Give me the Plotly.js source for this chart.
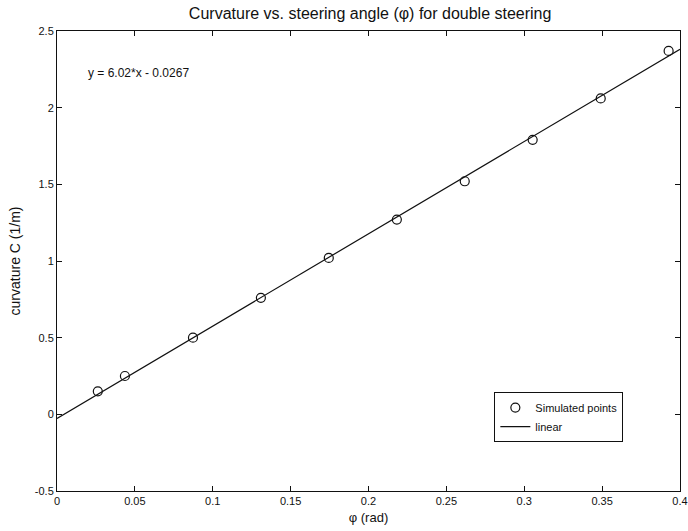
<!DOCTYPE html>
<html>
<head>
<meta charset="utf-8">
<script src="https://cdn.plot.ly/plotly-3.0.1.min.js"></script>
<style>html,body{margin:0;padding:0;background:#fff;}#chart{width:688px;height:531px;}</style>
</head>
<body>
<div id="chart"></div>
<script>
const angleRad = [0.0262, 0.0436, 0.0873, 0.1309, 0.1745, 0.2182, 0.2618, 0.3054, 0.3491, 0.3927];
const curvature = [0.15, 0.25, 0.50, 0.76, 1.02, 1.27, 1.52, 1.79, 2.06, 2.37];
const fitX = [0, 0.4];
const fitY = [-0.0267, 2.3813];
const xTicks = [0, 0.05, 0.1, 0.15, 0.2, 0.25, 0.3, 0.35, 0.4];
const xTickLabels = ['0', '0.05', '0.1', '0.15', '0.2', '0.25', '0.3', '0.35', '0.4'];
const yTicks = [-0.5, 0, 0.5, 1, 1.5, 2, 2.5];
const yTickLabels = ['-0.5', '0', '0.5', '1', '1.5', '2', '2.5'];
const equationText = 'y = 6.02*x - 0.0267';

const FAM = 'Liberation Sans, Arial, sans-serif';
const font = {family: FAM, size: 11, color: '#111'};

const traces = [
  {x: angleRad, y: curvature, mode: 'markers', type: 'scatter', name: 'Simulated points',
   marker: {symbol: 'circle-open', size: 9, color: '#111', line: {width: 1.2, color: '#111'}}},
  {x: fitX, y: fitY, mode: 'lines', type: 'scatter', name: 'linear',
   line: {color: '#111', width: 1.2}}
];

const layout = {
  width: 688, height: 531,
  margin: {l: 57, r: 8, t: 31, b: 40},
  paper_bgcolor: '#fff', plot_bgcolor: '#fff',
  font: font,
  showlegend: true,
  title: {text: 'Curvature vs. steering angle (φ) for double steering',
          font: {family: FAM, size: 16, color: '#111'},
          x: 0.538, xanchor: 'center', y: 0.974, yanchor: 'middle'},
  xaxis: {range: [0, 0.4], tickvals: xTicks, ticktext: xTickLabels,
          ticks: 'inside', ticklen: 5, tickcolor: '#111', mirror: 'allticks',
          showline: true, linecolor: '#111', linewidth: 1, showgrid: false, zeroline: false,
          tickfont: font,
          title: {text: 'φ (rad)', font: {family: FAM, size: 13, color: '#111'}, standoff: 6}},
  yaxis: {range: [-0.5, 2.5], tickvals: yTicks, ticktext: yTickLabels,
          ticks: 'inside', ticklen: 5, tickcolor: '#111', mirror: 'allticks',
          showline: true, linecolor: '#111', linewidth: 1, showgrid: false, zeroline: false,
          tickfont: font,
          title: {text: 'curvature C (1/m)', font: {family: FAM, size: 14, color: '#111'}, standoff: 10}},
  legend: {x: 0.702, y: 0.215, xanchor: 'left', yanchor: 'top',
           bordercolor: '#111', borderwidth: 1, bgcolor: '#fff',
           font: {family: FAM, size: 11, color: '#111'},
           tracegroupgap: 0, itemwidth: 30},
  annotations: [
    {x: 0.0186, y: 2.224, xref: 'x', yref: 'y', text: equationText, showarrow: false,
     xanchor: 'left', yanchor: 'middle', font: {family: FAM, size: 12, color: '#111'}}
  ]
};

Plotly.newPlot('chart', traces, layout, {displayModeBar: false, staticPlot: true});
</script>
</body>
</html>
